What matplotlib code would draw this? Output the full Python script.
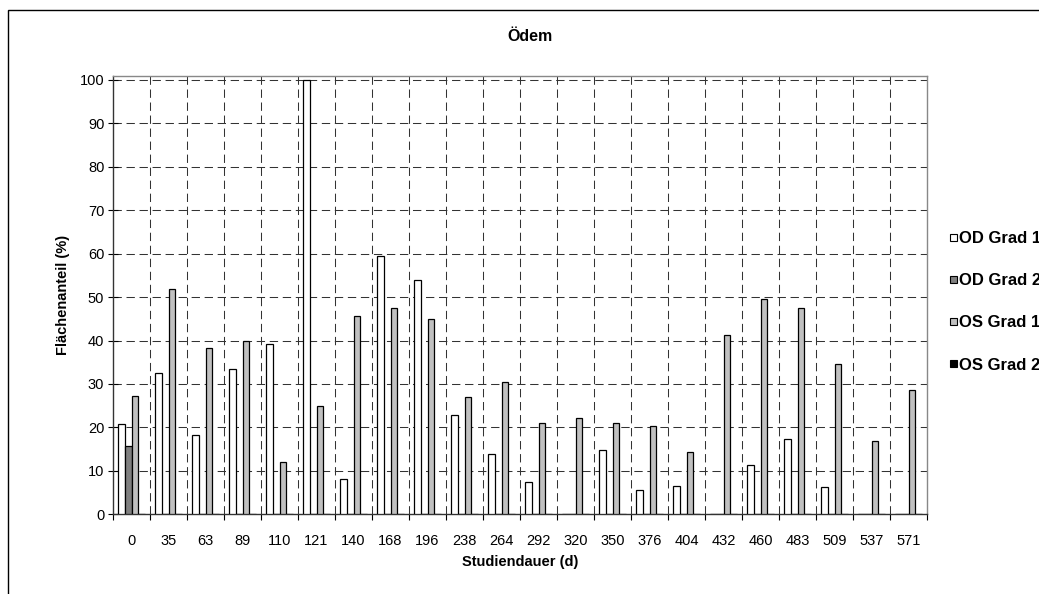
import matplotlib
matplotlib.use("Agg")
import matplotlib.pyplot as plt
import numpy as np
from matplotlib.patches import Rectangle

plt.rcParams['font.family'] = ['Liberation Sans', 'DejaVu Sans']

categories = ["0", "35", "63", "89", "110", "121", "140", "168", "196", "238", "264",
              "292", "320", "350", "376", "404", "432", "460", "483", "509", "537", "571"]
od_grad1 = [20.7, 32.5, 18.3, 33.4, 39.1, 100.0, 8.1, 59.4, 54.0, 22.9, 13.8,
            7.4, 0, 14.7, 5.6, 6.5, 0, 11.4, 17.4, 6.2, 0, 0]
od_grad2 = [15.8, 0, 0, 0, 0, 0, 0, 0, 0, 0, 0,
            0, 0, 0, 0, 0, 0, 0, 0, 0, 0, 0]
os_grad1 = [27.3, 51.8, 38.3, 39.8, 12.0, 24.9, 45.7, 47.6, 45.0, 27.1, 30.4,
            21.0, 22.2, 21.0, 20.4, 14.4, 41.3, 49.6, 47.4, 34.7, 16.9, 28.6]
os_grad2 = [0] * 22

series_names = ["OD Grad 1", "OD Grad 2", "OS Grad 1", "OS Grad 2"]
series_values = [od_grad1, od_grad2, os_grad1, os_grad2]
series_colors = ["#FFFFFF", "#808080", "#C0C0C0", "#000000"]

W, H = 1039, 594
fig = plt.figure(figsize=(W / 100, H / 100), dpi=100)
fig.patch.set_facecolor("white")

# outer chart frame (clipped at right and bottom)
fig.patches.append(Rectangle((8 / W, -0.2), 1.2, 1 - 10 / H + 0.2, transform=fig.transFigure,
                             fill=False, edgecolor="black", linewidth=1.0))

ax = fig.add_axes([113 / W, (H - 514.3) / H, (927 - 113) / W, (514.3 - 76) / H])
x = np.arange(len(categories))
bw = 0.18
offsets = [-1.5 * bw, -0.5 * bw, 0.5 * bw, 1.5 * bw]
for vals, col, off in zip(series_values, series_colors, offsets):
    ax.bar(x + off, vals, width=bw, color=col, edgecolor="black", linewidth=0.9, zorder=3)

ax.set_xlim(-0.5, len(categories) - 0.5)
ax.set_ylim(0, 100.9)
ax.set_yticks(np.arange(0, 101, 10))
ax.set_xticks(x)
ax.set_xticklabels(categories)
ax.set_xticks(np.arange(-0.5, len(categories), 1.0), minor=True)

ax.tick_params(axis="x", which="major", length=0, pad=14, labelsize=10.5)
ax.tick_params(axis="x", which="minor", length=4.5, direction="out", width=0.8)
ax.tick_params(axis="y", which="major", length=6.5, direction="inout", width=0.8,
               pad=3, labelsize=10.5)

dash = (0, (8, 4.5))
for yv in np.arange(10, 101, 10):
    ax.axhline(yv, color="#333333", linewidth=0.75, linestyle=dash, zorder=1)
for xv in np.arange(0.5, len(categories) - 0.5, 1.0):
    ax.axvline(xv, color="#333333", linewidth=0.75, linestyle=dash, zorder=1)

for s in ["left", "bottom"]:
    ax.spines[s].set_color("#333333")
    ax.spines[s].set_linewidth(1.0)
for s in ["top", "right"]:
    ax.spines[s].set_color("#888888")
    ax.spines[s].set_linewidth(1.0)

ax.set_ylabel("Flächenanteil (%)", fontsize=10.5, fontweight="bold", labelpad=7)
ax.set_xlabel("Studiendauer (d)", fontsize=10.5, fontweight="bold", labelpad=5)

fig.text(530 / W, 1 - 36.5 / H, "Ödem", ha="center", va="center", fontsize=11.5, fontweight="bold")

# legend (manually laid out, clipped at right edge like the reference)
for i, (name, col) in enumerate(zip(series_names, series_colors)):
    yc = 237 + 42.2 * i
    fig.patches.append(Rectangle((950 / W, 1 - (yc + 3.5) / H), 7 / W, 7 / H,
                                 transform=fig.transFigure, facecolor=col,
                                 edgecolor="black", linewidth=0.8))
    fig.text(959 / W, 1 - yc / H, name, ha="left", va="center_baseline",
             fontsize=12, fontweight="bold")

fig.savefig("out.png", dpi=100, facecolor="white")
